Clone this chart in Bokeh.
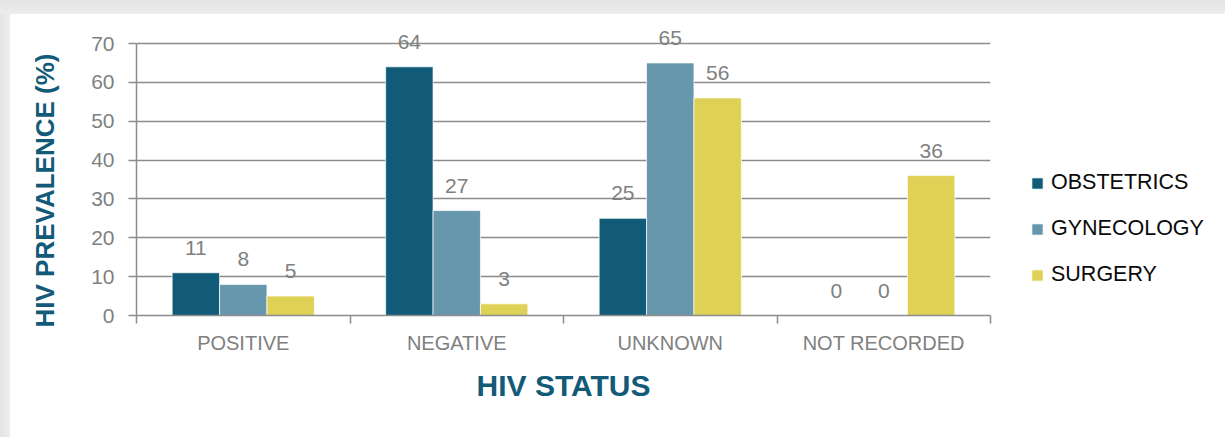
from bokeh.plotting import figure
from bokeh.models import ColumnDataSource, Legend, LegendItem, FixedTicker, Range1d, Title
from bokeh.core.properties import value
from bokeh.embed import file_html
from bokeh.resources import INLINE

categories = ["POSITIVE", "NEGATIVE", "UNKNOWN", "NOT RECORDED"]
series_names = ["OBSTETRICS", "GYNECOLOGY", "SURGERY"]
obstetrics = [11, 64, 25, 0]
gynecology = [8, 27, 65, 0]
surgery = [5, 3, 56, 36]
y_ticks = [0, 10, 20, 30, 40, 50, 60, 70]

colors = ["#115a78", "#6797ac", "#dfd156"]
FONT = "Liberation Sans"
TITLE_COLOR = "#135a78"
GRAY_TEXT = "#808080"
LINE_GRAY = "#8c8c8c"

css = (":host { background: "
       "linear-gradient(to bottom, #e4e4e4 0px, #ededed 14px, rgba(255,255,255,0) 14px), "
       "linear-gradient(to right, #e4e4e4 0px, #ededed 10px, #ffffff 10px); }")

# the frame reaches above the 70 line so value labels above tall bars stay visible
axis_px = 272
frame_px = 301
y_max = max(y_ticks)
y_end = y_max * frame_px / axis_px

p = figure(frame_width=854, frame_height=frame_px, output_backend="svg", toolbar_location=None,
           x_range=Range1d(0, len(categories)), y_range=Range1d(0, y_end),
           min_border_left=136, min_border_right=235, min_border_top=14, min_border_bottom=122,
           stylesheets=[css])
p.background_fill_color = "white"
p.border_fill_alpha = 0
p.outline_line_color = None

bar_w = 0.222
offsets = [-bar_w, 0.0, bar_w]
all_series = [obstetrics, gynecology, surgery]
renderers = []
for name, vals, off, col in zip(series_names, all_series, offsets, colors):
    xs = [i + 0.5 + off for i in range(len(categories))]
    src = ColumnDataSource(dict(x=xs, top=vals, label=[str(v) for v in vals]))
    r = p.vbar(x="x", top="top", width=bar_w, bottom=0, source=src,
               fill_color=col, line_color="white", line_alpha=0.7, line_width=1)
    renderers.append((name, r))
    p.text(x="x", y="top", text="label", source=src, text_align="center",
           text_baseline="alphabetic", y_offset=-25, text_font=value(FONT),
           text_font_size="21px", text_color=GRAY_TEXT)

# axes
yax = p.yaxis[0]
yax.ticker = FixedTicker(ticks=y_ticks)
yax.bounds = (0, y_max)
yax.axis_line_color = LINE_GRAY
yax.axis_line_width = 1.5
yax.major_tick_line_color = LINE_GRAY
yax.major_tick_line_width = 1.5
yax.major_tick_out = 8
yax.major_tick_in = 0
yax.minor_tick_line_color = None
yax.major_label_text_font = FONT
yax.major_label_text_font_size = "21px"
yax.major_label_text_color = GRAY_TEXT
yax.major_label_standoff = 14

ytitle = Title(text="HIV PREVALENCE (%)", align="left", offset=-12, vertical_align="middle",
               text_font=FONT, text_font_style="bold", text_font_size="26px",
               text_color=TITLE_COLOR, standoff=55)
p.add_layout(ytitle, "left")

xax = p.xaxis[0]
xax.ticker = FixedTicker(ticks=[i + 0.5 for i in range(len(categories))],
                         minor_ticks=list(range(len(categories) + 1)))
xax.major_label_overrides = {i + 0.5: c for i, c in enumerate(categories)}
xax.axis_line_color = LINE_GRAY
xax.axis_line_width = 1.5
xax.major_tick_line_color = None
xax.major_tick_out = 0
xax.major_tick_in = 0
xax.minor_tick_line_color = LINE_GRAY
xax.minor_tick_line_width = 1.5
xax.minor_tick_out = 8
xax.minor_tick_in = 0
xax.major_label_text_font = FONT
xax.major_label_text_font_size = "20px"
xax.major_label_text_color = GRAY_TEXT
xax.major_label_standoff = 8
xax.axis_label = "HIV STATUS"
xax.axis_label_text_font = FONT
xax.axis_label_text_font_style = "bold"
xax.axis_label_text_font_size = "30px"
xax.axis_label_text_color = TITLE_COLOR
xax.axis_label_standoff = 12

p.xgrid.grid_line_color = None
p.ygrid.ticker = FixedTicker(ticks=y_ticks)
p.ygrid.grid_line_color = LINE_GRAY
p.ygrid.grid_line_width = 1.5

legend = Legend(items=[LegendItem(label=n, renderers=[r]) for n, r in renderers],
                location=(40, 28), orientation="vertical",
                glyph_width=14, glyph_height=14, label_standoff=7, spacing=21,
                label_height=24,
                label_text_font=FONT, label_text_font_size="21.5px",
                label_text_color="#0a0a0a", border_line_color=None,
                background_fill_alpha=0, padding=0, margin=0)
p.add_layout(legend, "right")

open("out.html", "w").write(file_html(p, INLINE))
